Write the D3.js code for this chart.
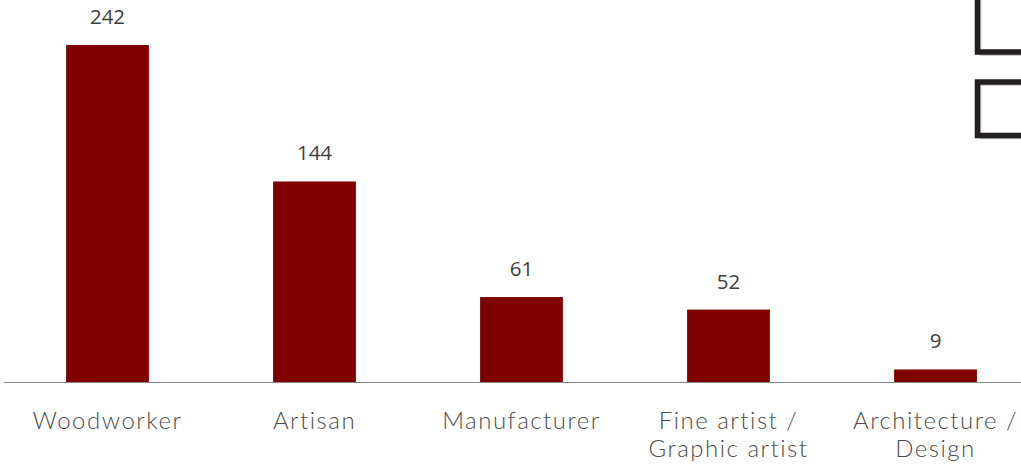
<!DOCTYPE html>
<html>
<head>
<meta charset="utf-8">
<script src="https://cdn.jsdelivr.net/npm/d3@7"></script>
<style>
  html, body { margin: 0; padding: 0; background: #ffffff; }
  svg { display: block; }
</style>
</head>
<body>
<svg id="chart" width="1021" height="469"></svg>
<script>
// Respondent occupations
const categories = ["Woodworker", "Artisan", "Manufacturer", "Fine artist / Graphic artist", "Architecture / Design"];
const labelLines = [["Woodworker"], ["Artisan"], ["Manufacturer"], ["Fine artist /", "Graphic artist"], ["Architecture /", "Design"]];
const counts = [242, 144, 61, 52, 9];

const W = 1021, H = 469;
const baseline = 382;
const svg = d3.select("#chart");

const x = d3.scaleBand()
  .domain(categories)
  .range([4, 1039])
  .paddingInner(0.6)
  .paddingOuter(0.3);

const y = d3.scaleLinear()
  .domain([0, 242])
  .range([baseline, 45]);

// Bars
svg.append("g")
  .selectAll("rect")
  .data(counts)
  .join("rect")
  .attr("x", (d, i) => x(categories[i]))
  .attr("y", d => y(d))
  .attr("width", x.bandwidth())
  .attr("height", d => baseline - y(d))
  .attr("fill", "#800000");

// Value labels
svg.append("g")
  .selectAll("text")
  .data(counts)
  .join("text")
  .attr("x", (d, i) => x(categories[i]) + x.bandwidth() / 2)
  .attr("y", d => y(d) - 21)
  .attr("text-anchor", "middle")
  .attr("font-family", "'Open Sans', 'Noto Sans', sans-serif")
  .attr("font-size", 20.5)
  .attr("fill", "#404040")
  .text(d => d);

// Category axis
const axis = d3.axisBottom(x).tickSize(0).tickFormat("");
const ax = svg.append("g")
  .attr("transform", `translate(0,${baseline})`)
  .call(axis);
ax.select(".domain")
  .attr("d", `M4,0.5H${W}`)
  .attr("stroke", "#898989")
  .attr("stroke-width", 1.2);

// Category labels (wrapped)
const lab = svg.append("g")
  .selectAll("text")
  .data(categories)
  .join("text")
  .attr("x", d => x(d) + x.bandwidth() / 2)
  .attr("y", 429)
  .attr("text-anchor", "middle")
  .attr("font-family", "Lato, sans-serif")
  .attr("font-size", 24)
  .attr("font-weight", 300)
  .attr("letter-spacing", 1.5)
  .attr("fill", "#4d4d4d");
lab.each(function(d, i) {
  const t = d3.select(this);
  labelLines[i].forEach((line, k) => {
    t.append("tspan")
      .attr("x", x(d) + x.bandwidth() / 2)
      .attr("dy", k === 0 ? 0 : 27.5)
      .text(line);
  });
});

// Framed boxes at the right edge
const frames = [
  { top: -20, bottom: 52 },
  { top: 82, bottom: 135.5 }
];
const fg = svg.append("g");
frames.forEach(f => {
  fg.append("rect")
    .attr("x", 980.5)
    .attr("y", f.top + 3)
    .attr("width", 100)
    .attr("height", f.bottom - f.top)
    .attr("fill", "none")
    .attr("stroke", "#bdbdbd")
    .attr("stroke-width", 1.5);
  fg.append("rect")
    .attr("x", 977.5)
    .attr("y", f.top)
    .attr("width", 100)
    .attr("height", f.bottom - f.top)
    .attr("fill", "none")
    .attr("stroke", "#231f20")
    .attr("stroke-width", 5.5);
});
</script>
</body>
</html>
